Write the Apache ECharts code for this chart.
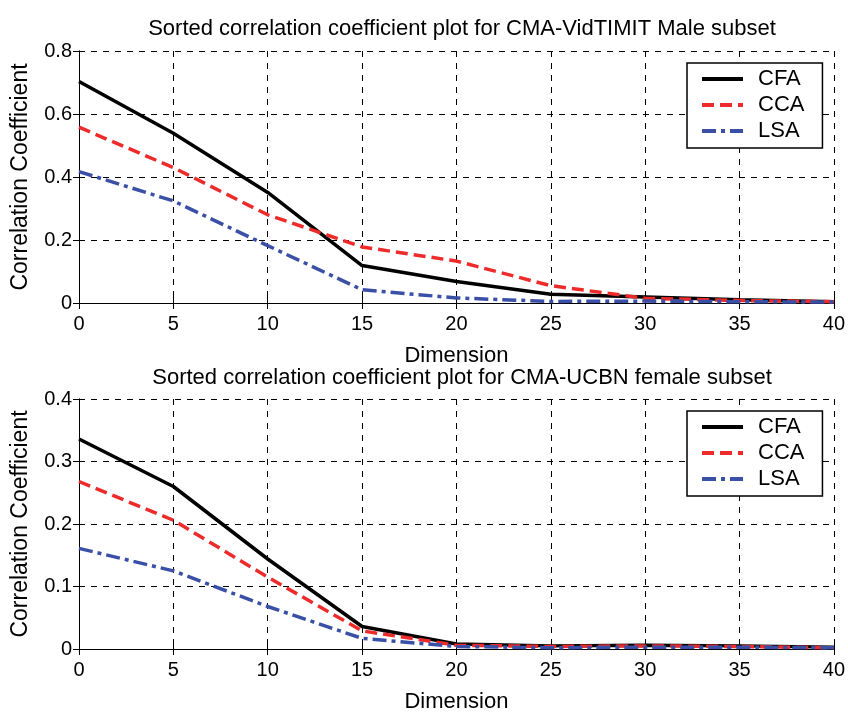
<!DOCTYPE html>
<html>
<head>
<meta charset="utf-8">
<script src="https://cdn.jsdelivr.net/npm/echarts@6/dist/echarts.min.js"></script>
<style>
  html, body { margin: 0; padding: 0; background: #fff; }
  #chart { width: 848px; height: 714px; }
</style>
</head>
<body>
<div id="chart"></div>
<script>
// dimension positions
var dims = [0, 5, 10, 15, 20, 25, 30, 35, 40]

// top plot: CMA-VidTIMIT male
var maleCFA = [0.703, 0.539, 0.351, 0.119, 0.068, 0.028, 0.019, 0.010, 0.004]
var maleCCA = [0.558, 0.430, 0.280, 0.178, 0.133, 0.055, 0.015, 0.008, 0.004]
var maleLSA = [0.417, 0.324, 0.182, 0.042, 0.016, 0.005, 0.006, 0.004, 0.003]

// bottom plot: CMA-UCBN female
var femaleCFA = [0.336, 0.260, 0.144, 0.036, 0.008, 0.005, 0.006, 0.005, 0.003]
var femaleCCA = [0.268, 0.206, 0.115, 0.029, 0.006, 0.004, 0.005, 0.004, 0.002]
var femaleLSA = [0.161, 0.125, 0.068, 0.017, 0.004, 0.002, 0.003, 0.003, 0.002]

var xTicks = [0, 5, 10, 15, 20, 25, 30, 35, 40]
var topTitle = 'Sorted correlation coefficient plot for CMA-VidTIMIT Male subset'
var bottomTitle = 'Sorted correlation coefficient plot for CMA-UCBN female subset'

var font = 'Liberation Sans'

function pairs(ys) {
  return dims.map(function (d, i) { return [d, ys[i]] })
}

function xAxisFor(idx) {
  return {
    type: 'value', gridIndex: idx, min: xTicks[0], max: xTicks[xTicks.length - 1], interval: 5,
    name: 'Dimension', nameLocation: 'middle', nameGap: 42,
    nameTextStyle: { color: '#000', fontSize: 22, fontFamily: font },
    axisLine: { lineStyle: { color: '#000', width: 1 } },
    axisTick: { inside: true, length: 6, lineStyle: { color: '#000' } },
    axisLabel: { color: '#000', fontSize: 20, fontFamily: font, margin: 11 },
    splitLine: { show: true, lineStyle: { color: '#000', type: [6, 6], width: 1 } }
  }
}

function topAxisFor(idx) {
  return {
    type: 'value', gridIndex: idx, position: 'top', min: 0, max: 40, interval: 5,
    axisLine: { lineStyle: { color: '#000' } },
    axisTick: { inside: true, length: 6, lineStyle: { color: '#000' } },
    axisLabel: { show: false }, splitLine: { show: false }
  }
}

function yAxisFor(idx, max, step) {
  return {
    type: 'value', gridIndex: idx, min: 0, max: max, interval: step,
    name: 'Correlation Coefficient', nameLocation: 'middle', nameGap: 47, nameRotate: 90,
    nameTextStyle: { color: '#000', fontSize: 23, fontFamily: font },
    axisLine: { show: true, lineStyle: { color: '#000', width: 1 } },
    axisTick: { show: true, inside: true, length: 6, lineStyle: { color: '#000' } },
    axisLabel: { color: '#000', fontSize: 20, fontFamily: font, margin: 7 },
    splitLine: { show: true, lineStyle: { color: '#000', type: [6, 6], width: 1 } }
  }
}

function rightAxisFor(idx, max, step) {
  return {
    type: 'value', gridIndex: idx, position: 'right', min: 0, max: max, interval: step,
    axisLine: { show: true, lineStyle: { color: '#000' } },
    axisTick: { show: true, inside: true, length: 6, lineStyle: { color: '#000' } },
    axisLabel: { show: false }, splitLine: { show: false }
  }
}

var styles = {
  CFA: { color: '#000000', width: 3.5, type: 'solid' },
  CCA: { color: '#ee2b2b', width: 3.5, type: [12, 6] },
  LSA: { color: '#3a4fa6', width: 3.5, type: [14, 5, 4, 5] }
}

function line(name, ys, idx) {
  return {
    name: name, type: 'line', xAxisIndex: idx * 2, yAxisIndex: idx * 2,
    data: pairs(ys), symbol: 'none', animation: false,
    lineStyle: styles[name], itemStyle: { color: styles[name].color }
  }
}

function legendFor(top) {
  return {
    data: ['CFA', 'CCA', 'LSA'], orient: 'vertical', left: 687, top: top,
    itemWidth: 41, itemHeight: 14, itemGap: 4,
    padding: [5, 18, 6, 13],
    itemStyle: { opacity: 0 },
    lineStyle: { width: 4 },
    backgroundColor: '#fff', borderColor: '#000', borderWidth: 1.5,
    textStyle: { color: '#000', fontSize: 22, fontFamily: font, padding: [0, 0, 0, 10] }
  }
}

// titles sit centred over the plot area, not the page
var titleStyle = { color: '#000', fontSize: 22, fontWeight: 'normal', fontFamily: font }

var myChart = echarts.init(document.getElementById('chart'))
var option = {
  backgroundColor: '#fff',
  animation: false,
  title: [
    { text: topTitle, left: 457, textAlign: 'center', top: 13, textStyle: titleStyle },
    { text: bottomTitle, left: 457, textAlign: 'center', top: 362, textStyle: titleStyle }
  ],
  grid: [
    { left: 79, right: 12, top: 51, height: 252 },
    { left: 79, right: 12, top: 399, height: 254 }
  ],
  xAxis: [xAxisFor(0), topAxisFor(0), xAxisFor(1), topAxisFor(1)],
  yAxis: [yAxisFor(0, 0.8, 0.2), rightAxisFor(0, 0.8, 0.2), yAxisFor(1, 0.4, 0.1), rightAxisFor(1, 0.4, 0.1)],
  legend: [legendFor(63), legendFor(411)],
  series: [
    line('CFA', maleCFA, 0),
    line('CCA', maleCCA, 0),
    line('LSA', maleLSA, 0),
    line('CFA', femaleCFA, 1),
    line('CCA', femaleCCA, 1),
    line('LSA', femaleLSA, 1)
  ]
}
myChart.setOption(option)
</script>
</body>
</html>
